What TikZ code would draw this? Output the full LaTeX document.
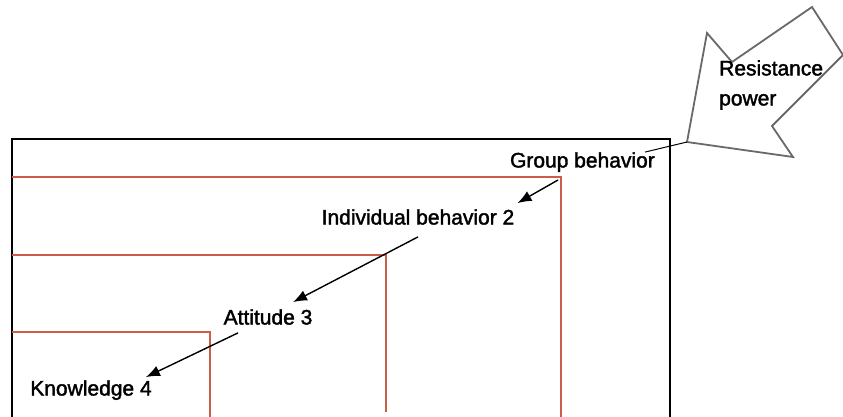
\documentclass[tikz,border=0pt]{standalone}
\usepackage{fontspec}
\setmainfont{Liberation Sans}
\newfontfamily\labelfont[FakeBold=1.8]{Liberation Sans}
\usetikzlibrary{arrows.meta}
\definecolor{layerred}{RGB}{205,92,72}
\definecolor{forcegray}{RGB}{105,105,105}
\begin{document}
\begin{tikzpicture}[x=1pt,y=-1pt,
  lbl/.style={inner sep=0pt,font=\labelfont\fontsize{21}{30}\selectfont},
  pointer/.style={-{Latex[length=14pt,width=11pt]},line width=1.4pt},
  layer/.style={draw=layerred,line width=1.4pt}]
\useasboundingbox (0,0) rectangle (843,417);
\draw[line width=1.6pt] (12,417) -- (12,139) -- (670,139) -- (670,417);
\draw[layer] (12,177) -- (561,177) -- (561,417);
\draw[layer] (12,255) -- (386,255) -- (386,412);
\draw[layer] (12,332) -- (210,332) -- (210,417);
\coordinate (r1) at (561,177);
\coordinate (tip) at (687,142);
\draw[forcegray,line width=1.8pt,fill=white] (tip) -- (707,33) -- (732,62) -- (812,7)
      -- (843,55) -- (772,126) -- (793,157) -- cycle;
\node[lbl,anchor=west,align=left] (res) at (719,85) {Resistance\\power};
\node[lbl,anchor=base east] (grp) at (655,167.5) {Group behavior};
\node[lbl,anchor=base] (ind) at (418,224.5) {Individual behavior 2};
\node[lbl,anchor=base] (att) at (268,324.5) {Attitude 3};
\node[lbl,anchor=base] (know) at (91,395.5) {Knowledge 4};
\draw[line width=1pt] ([xshift=-10pt]grp.north east) -- (tip);
\draw[pointer] ([shift={(-3,3)}]r1) -- ([shift={(3,-6)}]ind.north east);
\draw[pointer] ([yshift=-12pt]ind.south) -- ([shift={(25,-7)}]att.north);
\draw[pointer] ([shift={(-30,8)}]att.south) -- ([shift={(-6,-3)}]know.north east);
\end{tikzpicture}
\end{document}
